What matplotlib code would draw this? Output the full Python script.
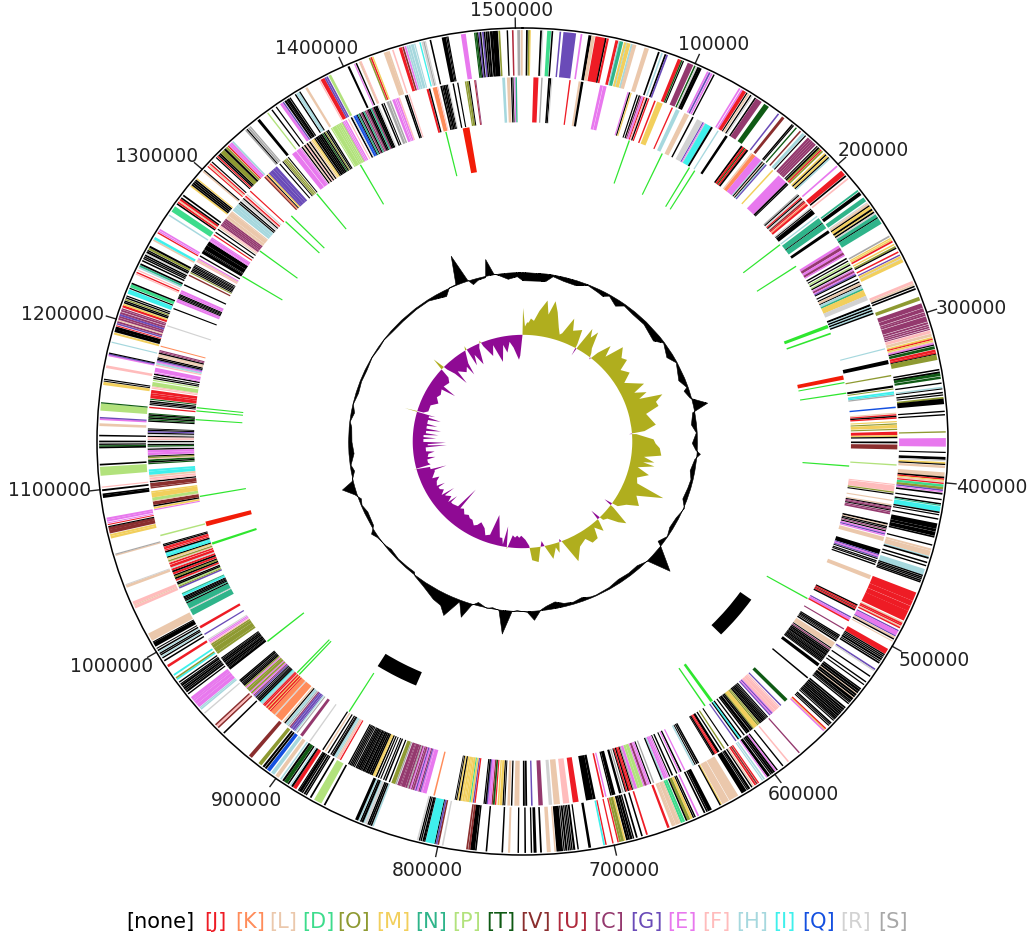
import numpy as np
import matplotlib
matplotlib.use("Agg")
import matplotlib.pyplot as plt

GENOME_KB = 1504.0
tick_values = [100000,200000,300000,400000,500000,600000,700000,800000,900000,1000000,1100000,1200000,1300000,1400000,1500000]
tick_labels = [str(v) for v in tick_values]
label_px = [(714,45),(873,151),(971,308),(992,487),(934,660),(803,795),(624,870),(427,871),(246,800),(112,666),(50,491),(63,315),(157,157),(317,48),(512,10)]

legend_names = ['[none]','[J]','[K]','[L]','[D]','[O]','[M]','[N]','[P]','[T]','[V]','[U]','[C]','[G]','[E]','[F]','[H]','[I]','[Q]','[R]','[S]']
legend_x = [160,215,250,283,318,354,393,431,467,501,536,572,609,646,682,716,752,784,819,856,893]
cat_keys = ['x','J','K','L','D','O','M','N','P','T','V','U','C','G','E','F','H','I','Q','R','S']
cat_colors = ['#000000','#EE1C25','#FF8C5A','#EBC8AC','#3DDC8C','#8E9A32','#F2CF5C','#2FB48A','#B2E27C','#0F5A14','#8A2E2E','#B02A3C','#94396E','#6A4BB8','#E878EE','#FFBCBC','#A6D8DE','#3FF0EC','#1450E0','#D2D2D2','#A8A8A8']
colour = dict(zip(cat_keys, cat_colors))

# (start kb, length kb, COG category)
fwd_genes = [(2,.8,'x'),(3.2,.8,'O'),(4,.5,'M'),(10,1,'x'),(11,.6,'R'),(14,2,'D'),(16.5,.7,'x'),(21,.7,'G'),(23.2,7,'G'),(33,.8,'E'),(37.5,1.6,'x'),(39.2,1.8,'L'),(41.5,5.5,'J'),(47,.7,'x'),(48,1,'J'),(53,1.5,'J'),(54.8,.6,'H'),(55.5,1.8,'N'),(58,1.2,'M'),(59.2,.4,'H'),(59.7,1.9,'M'),(62,1,'H'),(63,2,'L'),(70,2.4,'L'),(78,.8,'x'),(80,.7,'H'),(82,.8,'x'),(83,.8,'G'),(90,1.8,'J'),(92,.6,'T'),(93,.5,'x'),(96,3.2,'C'),(100,.7,'T'),(101,.7,'R'),(102,1,'x'),(103,1.4,'x'),(108,.8,'E'),(109.2,.8,'G'),(110.5,.8,'E'),(112,.6,'x'),
(128.5,.8,'E'),(130,.8,'E'),(131,2,'J'),(133.5,.5,'x'),(134.5,.8,'L'),(136,.6,'x'),(137,.5,'R'),(139,.7,'x'),(140,3.5,'C'),(145.5,3,'T'),(155,.7,'G'),(158,1.5,'V'),(165,.7,'x'),(166,.5,'x'),(168,.6,'T'),(171,.7,'V'),(173,1.5,'H'),(175,.5,'x'),(177,1.2,'C'),(178.4,1,'C'),(179.6,1,'C'),(180.8,1,'C'),(182,1,'C'),(184,.5,'x'),(185,1,'x'),(186,.7,'O'),(187,.7,'J'),(188,.8,'O'),(190,.8,'M'),(191,.6,'x'),(192,1,'M'),(193.2,.6,'x'),(194,.7,'H'),(200,.8,'E'),(204,3,'J'),(207.5,.8,'x'),(209.5,.8,'F'),(218.5,.9,'N'),(220,2,'x'),(224,2.5,'N'),(227.5,.5,'R'),(228.3,1,'L'),(229.5,.7,'x'),(230.3,1.5,'M'),(232,1,'x'),(233.2,.5,'M'),(234,.8,'x'),(235,.8,'R'),(236,2,'N'),(238,.5,'x'),(238.6,3.6,'N'),(250.5,.8,'S'),(252,.6,'M'),(253,.7,'M'),(254,.8,'J'),(256,.7,'M'),(257.5,.8,'O'),(258.5,.6,'x'),(261,.7,'J'),(263,.6,'G'),(264,1.3,'M'),(265.5,.5,'R'),(266,1.8,'M'),(280,1.5,'F'),(281.8,.8,'L'),(283,.7,'x'),(284.5,.8,'x'),(290,2,'O'),
(294,2.6,'C'),(297,2,'C'),(299.5,.8,'C'),(300.5,1,'C'),(302,3,'C'),(305.5,1,'C'),(307,.8,'C'),(308.2,.8,'C'),(309.5,.5,'C'),(310.5,1.6,'F'),(312.5,1.5,'L'),(314.5,1,'M'),(315.5,.6,'J'),(316.3,.8,'M'),(317.3,.6,'L'),(318,.8,'E'),(319,.5,'x'),(320,1.5,'T'),(322,1.3,'J'),(323.5,.9,'J'),(324.5,.4,'x'),(325,3,'O'),(333.5,.7,'x'),(335,1,'x'),(336,1.5,'T'),(338,1.2,'T'),(341.5,.6,'x'),(344,.7,'H'),(345,.4,'x'),(347,.7,'x'),(348.5,.5,'x'),(350,1,'O'),(351,3,'x'),(358,.6,'x'),(360,.6,'x'),(370,.6,'O'),(374,4.8,'E'),(382,.5,'x'),(385,1.5,'x'),(386.7,.6,'R'),(388,.9,'M'),(389,.5,'x'),(390,1.3,'L'),(394,2.5,'L'),(396.5,.8,'x'),(397.5,.7,'J'),(398.3,.5,'M'),(399,.6,'L'),(400,.6,'J'),(401,1.3,'D'),(402.5,1.3,'O'),(404,.7,'G'),(405,.5,'E'),(406,.8,'x'),(409.5,.6,'x'),(412,.7,'x'),(413,.5,'N'),(414,2.8,'I'),(417,.7,'x'),(418.5,.5,'x'),(421,.6,'x'),(424,3,'x'),(427.2,1.5,'x'),(429,2.2,'x'),(431.5,.8,'x'),(436.5,.6,'x'),(439,1,'L'),(440.3,3,'L'),(443.5,.6,'H'),(444.2,.8,'x'),(447,.7,'x'),(449,.6,'x'),(451.5,3.5,'H'),(455,.6,'x'),(456,.7,'x'),(457,.6,'x'),(458,.7,'x'),(459,.6,'x'),
(466,5,'J'),(471.2,3,'J'),(474.5,3,'J'),(477.6,6,'J'),(484.5,.6,'L'),(485.3,.8,'J'),(486.3,.7,'J'),(487.2,.6,'L'),(488,.7,'J'),(490,.6,'G'),(490.7,2.6,'E'),(493.5,.5,'G'),(494.3,1,'L'),(495.5,.6,'x'),(497,.4,'L'),(502.5,3.2,'J'),(506,.6,'x'),(507,.6,'x'),(508,.6,'x'),(509,1,'x'),(510.5,.5,'x'),(511.5,.8,'x'),(516,.8,'G'),(517,.6,'R'),(521,.6,'x'),(525,.6,'x'),(527,.5,'x'),(530,.7,'x'),(531,1.2,'x'),(532.5,1,'x'),(533.7,.4,'L'),(534.2,1,'x'),(535.5,1,'x'),(536.7,.4,'L'),(537.2,1.5,'x'),(539,.8,'x'),(540,.5,'x'),(541,.6,'x'),(544,.8,'x'),(545.2,1,'x'),(546.5,.8,'x'),(547.6,.8,'x'),(548.6,.8,'x'),(549.7,1,'x'),(551,.8,'x'),(552,.8,'x'),(553,.5,'x'),(554,.5,'x'),(556,.7,'x'),(557,.5,'x'),(558,.5,'x'),(560.5,.7,'J'),(561.3,.5,'M'),(562,.7,'E'),
(581,.6,'C'),(589,.7,'F'),(593,.6,'x'),(597,.6,'x'),(598,.7,'E'),(599,.8,'x'),(600,1,'x'),(601.3,.6,'x'),(602.5,1.5,'x'),(604.3,.5,'E'),(606,.7,'H'),(607.3,.5,'H'),(610,.6,'J'),(611,.7,'V'),(612,.8,'J'),(613.5,.5,'L'),(614.5,.6,'x'),(616,1.2,'x'),(617.5,.5,'x'),(618.5,3,'x'),(624,5.5,'L'),(630,4,'L'),(634.5,.6,'M'),(635.2,.6,'x'),(641,2.2,'x'),(643.5,.7,'x'),(645,.8,'x'),(649,.8,'E'),(651,.6,'x'),(652,.6,'x'),(653,1.2,'M'),(654.5,1.5,'O'),(656.2,.7,'x'),(657.6,1.2,'D'),(659,1,'D'),(660.2,.6,'L'),(661,2,'L'),(663.3,.6,'L'),(664,1.4,'L'),(667,1.2,'J'),(680,.8,'J'),(683,.7,'x'),(686,.8,'x'),(688,.6,'x'),(689,1.2,'x'),(690.5,.8,'x'),(691.5,1,'x'),(693,.8,'M'),(694,1.4,'O'),(695.6,1,'O'),(697,.6,'J'),(700,.6,'J'),(704,.6,'J'),(705,.8,'I'),(713,1.3,'x'),(720,.6,'x'),(722,1,'x'),(723.5,.6,'x'),(724.5,.6,'x'),(725.5,.5,'x'),(726.5,1,'x'),(728,.5,'x'),(729,3.5,'x'),(733,.7,'L'),(736,2,'L'),(741,.8,'x'),(744,1.5,'x'),(746.5,.6,'x'),(750,.7,'x'),(754,.6,'x'),(759,1,'L'),(763,.7,'x'),(772,.7,'x'),(778,.7,'x'),(779,2.5,'x'),(781.6,1,'V'),(783,.8,'V'),(797,.7,'R'),(799.5,.8,'V'),(800.5,.8,'G'),(801.6,.5,'x'),(802.2,5,'I'),(807.5,.4,'x'),(808,1,'x'),(809.5,.6,'x'),(810.5,.6,'x'),(811.5,.7,'R'),
(838,.7,'H'),(839,.7,'x'),(840,.8,'x'),(841,.7,'x'),(842,1.2,'R'),(843.5,.7,'H'),(844.3,1,'x'),(845.5,.7,'x'),(846.5,.7,'H'),(847.5,1.6,'x'),(868,.8,'x'),(870.5,4.5,'P'),(877,.8,'x'),(880,.6,'x'),(881,.9,'x'),(882.5,.7,'x'),(883.5,1.5,'x'),(885.2,.5,'x'),(887,2,'J'),(889.2,1,'x'),(890.5,.6,'H'),(892,.7,'x'),(893,2,'T'),(895.2,1,'x'),(897,.7,'H'),(899,2,'L'),(902,2,'H'),(905,2,'Q'),(907.5,1,'x'),(909,1,'x'),(911,2,'O'),(918,2,'V'),(939,.7,'x'),(943.5,.8,'V'),(944.5,1,'F'),(945.7,.7,'V'),(955,.6,'R'),(958,.7,'H'),(959,.6,'H'),(960,2,'E'),(962.2,2,'E'),(964.4,1,'E'),(965.5,1.8,'E'),(969.5,.6,'x'),(971,1,'x'),(972.3,.6,'x'),(973.2,1,'x'),(974.5,.6,'x'),(975.5,1,'x'),(976.7,.5,'x'),(978,.6,'x'),(980,.8,'I'),(981,.7,'O'),(983,.9,'I'),(989,1.3,'J'),(993,.7,'x'),(995,.6,'x'),(996,.5,'H'),(997,.6,'x'),(998,.6,'x'),(999,.5,'H'),(1000,.7,'x'),(1001.5,.4,'x'),(1003,2.5,'x'),(1005.7,.5,'x'),(1007,4.5,'L'),(1028,1.5,'F'),(1029.7,.5,'L'),(1030.3,1.8,'F'),(1041,1.5,'L'),(1042.6,.4,'R'),(1060.5,.6,'L'),(1061.2,.5,'S'),(1071,1.2,'M'),(1072.4,1,'M'),(1074,2,'V'),(1076,1.6,'V'),(1077.7,.5,'x'),(1079,.4,'J'),(1080,.4,'E'),(1081,1,'E'),(1082.2,1,'E'),(1095,1.5,'x'),(1096.6,.8,'x'),(1099,.9,'x'),(1101,.5,'F'),(1108,5,'P'),(1114,.8,'x'),(1124,.9,'x'),(1125,.6,'T'),(1126,.6,'x'),(1127.5,.8,'x'),(1131,.7,'x'),
(1137,1.4,'L'),(1140.5,.9,'E'),(1141.5,.6,'G'),(1146,4,'P'),(1150.2,.5,'T'),(1161,1.6,'M'),(1163,.4,'x'),(1164,.5,'x'),(1171,1.4,'F'),(1178,.7,'E'),(1178.8,.6,'G'),(1179.5,.5,'x'),(1186,.5,'H'),(1191,1,'M'),(1192.5,1.5,'x'),(1194,1.6,'x'),(1196,.4,'J'),(1197,.7,'G'),(1198,.9,'C'),(1199.2,.5,'L'),(1200,.9,'C'),(1201.2,.9,'C'),(1202.3,1,'G'),(1203.5,1,'C'),(1205,.9,'C'),(1206.2,.6,'C'),(1207.5,1.2,'J'),(1208.8,.8,'M'),(1210,.7,'x'),(1211,.6,'x'),(1212,.5,'O'),(1213,.6,'x'),(1214.2,.5,'x'),(1216,2.5,'I'),(1219,.5,'x'),(1220,1.8,'D'),(1222,.7,'x'),(1228,.5,'F'),(1229,.6,'J'),(1230.5,.5,'F'),(1232,.7,'H'),(1233,.9,'N'),(1234.2,.8,'x'),(1236.5,.7,'x'),(1238,.6,'x'),(1239,.6,'x'),(1240,.8,'x'),(1241,.6,'R'),(1242,.9,'x'),(1243.2,.6,'x'),(1244.2,1,'O'),(1245.5,1,'x'),(1250,.8,'L'),(1251,1.3,'I'),(1255,.6,'J'),(1256,.6,'E'),(1257,.8,'E'),(1267,.7,'H'),(1270,3.4,'D'),(1275,.7,'x'),(1276,.9,'J'),(1277,.7,'L'),(1278,1,'J'),(1279.2,.7,'x'),(1281,.8,'x'),(1288,.8,'M'),(1289,.7,'x'),(1290,.9,'x'),(1291.2,.8,'x'),(1292.3,.8,'x'),(1293.5,.5,'M'),(1299,.7,'L'),(1300,.5,'x'),(1303,.5,'J'),(1304,.6,'L'),(1305,.6,'J'),(1306.5,.5,'x'),(1310,.5,'x'),(1311,.6,'J'),(1312,.7,'x'),(1313,.8,'x'),(1314,2.5,'O'),(1316.7,1,'x'),(1318,1,'O'),(1319.5,.6,'J'),(1320.5,1,'E'),(1321.7,1,'E'),(1323,.8,'H'),
(1333,.7,'S'),(1334,.5,'x'),(1335,.9,'S'),(1336.3,.6,'S'),(1342,1.5,'x'),(1349,.6,'P'),(1352,.6,'x'),(1355,.5,'x'),(1358,1.5,'E'),(1359.8,.6,'G'),(1361,1,'x'),(1362.3,.6,'x'),(1363,1,'x'),(1364.4,.6,'x'),(1368,.6,'x'),(1369,.7,'H'),(1370,.8,'H'),(1371,.5,'x'),(1375,1.2,'L'),(1384,.5,'F'),(1385,2.2,'J'),(1387.4,.8,'G'),(1388.5,.8,'G'),(1390,1.4,'P'),(1402,1,'x'),(1406,.5,'E'),(1407,.6,'x'),(1409,1,'L'),(1410,.4,'F'),(1415,.7,'O'),(1416,.7,'J'),(1417,.6,'M'),(1424,2.5,'L'),(1426.6,.7,'L'),(1429,.7,'F'),(1433,1.6,'J'),(1435,.8,'V'),(1436.3,.8,'E'),(1437.5,.8,'H'),(1438.6,1,'H'),(1440,1.5,'H'),(1442,.5,'H'),(1445,.6,'I'),(1446.3,.7,'R'),(1447.3,.6,'S'),(1448.2,.5,'R'),(1451,.7,'x'),(1458,2.2,'x'),(1460.5,.5,'x'),(1461.2,.5,'x'),(1469,2.6,'E'),(1476.5,.5,'T'),(1477.2,.8,'T'),(1478.2,.5,'x'),(1479,.6,'G'),(1479.8,.6,'x'),(1481,.8,'G'),(1482,.6,'x'),(1483,.8,'x'),(1484,1,'x'),(1485.5,1.4,'x'),(1487,2.8,'x'),(1490.3,.8,'O'),(1495,.6,'x'),(1498,.7,'U'),(1501,1.4,'S'),(1503,.9,'L')]

rev_genes = [(7,3,'J'),(12,.7,'S'),(16.5,.9,'x'),(17.6,.6,'x'),(18.5,.5,'R'),(30,.7,'J'),(36,1.2,'L'),(37.5,1.4,'x'),(50,1.6,'E'),(52,2,'E'),(68,.6,'E'),(69,.6,'x'),(70,.6,'M'),(74,.6,'x'),(75.5,.7,'x'),(76.6,.6,'C'),(77.5,1,'E'),(78.8,.6,'J'),(79.6,.8,'F'),(80.6,.7,'x'),(81.8,.7,'J'),(86,.8,'J'),(88,3.6,'M'),(98,.7,'J'),(101,2.4,'H'),(107,3,'L'),(112.5,.8,'x'),(116,3.6,'R'),(120,.6,'G'),(120.8,.5,'E'),(121.5,.5,'R'),(122,4,'I'),(126.2,1.1,'x'),(131,.7,'H'),(137,1.5,'x'),(149,1,'x'),(150.2,1.2,'J'),(151.5,.6,'T'),(152.3,1,'J'),(153.5,1,'x'),(157,.7,'L'),(158,2.4,'K'),(160.5,4.5,'E'),(165.2,.6,'H'),(166,.6,'x'),(166.8,.5,'L'),(167.5,.6,'x'),(168.2,.6,'H'),(169,.7,'G'),(174.5,.8,'M'),(180,6.5,'E'),(186.7,1,'x'),(188,.6,'x'),(197,.7,'S'),(198,.6,'x'),(199,.5,'R'),(200,.7,'J'),(201,.6,'x'),(202,.6,'R'),(203,.8,'V'),(204,.7,'J'),(205.2,.6,'K'),(206,1.2,'J'),(209,.6,'R'),(210,.5,'x'),(211,3,'x'),(216,.7,'H'),(218,3.6,'N'),(221.8,.5,'x'),(222.4,3.6,'N'),(228,1.8,'x'),(240,1.5,'E'),(241.7,1.8,'C'),(243.7,1.5,'E'),(245.4,1.5,'C'),(247,.8,'E'),(249.5,.8,'x'),(251.5,.6,'x'),(253,.8,'P'),(254.3,.7,'x'),(256,.7,'P'),(257,.7,'x'),(258.3,.6,'E'),(259.2,1.2,'C'),(260.6,.7,'E'),(261.5,.7,'G'),(262.4,.6,'x'),(265,.7,'x'),(267,.7,'x'),(268,1.5,'L'),(269.7,.5,'x'),(270.5,1.5,'H'),(272.2,1,'N'),(273.3,4,'M'),(277.4,3,'R'),(283.5,1.2,'x'),(285,.5,'H'),(285.7,.9,'x'),(286.8,.5,'H'),(287.5,.9,'x'),(288.6,.8,'H'),(289.5,.8,'x'),
(314,.6,'H'),(322,2.5,'x'),(332,.7,'O'),(339,1.2,'x'),(341,.5,'O'),(343,1,'I'),(344.2,.7,'I'),(345.2,.7,'S'),(353,.8,'Q'),(357,.5,'L'),(358,.7,'J'),(359,.8,'x'),(360,.8,'J'),(362.5,.6,'M'),(364,.6,'O'),(365,2,'M'),(367.6,.6,'O'),(369.5,2,'J'),(371.8,1,'M'),(372.9,.7,'x'),(376,1,'x'),(378,3,'V'),(391,.7,'P'),(404,.5,'F'),(405,3.6,'F'),(409,.7,'O'),(410.3,.6,'x'),(414.5,.6,'L'),(417.5,.6,'L'),(418.5,.6,'x'),(419.2,.5,'C'),(420,.8,'C'),(421,.5,'x'),(422,.7,'C'),(423,1,'C'),(430,1,'x'),(431.2,.6,'L'),(432,.6,'x'),(433,.6,'x'),(434,.5,'C'),(435,.6,'x'),(436,.8,'E'),(437,.7,'G'),(438,.6,'E'),(439.5,2.6,'L'),(448,3,'x'),(451.2,.7,'G'),(452,.8,'E'),(453,.6,'G'),(454,.5,'x'),(455.5,.6,'x'),(456.5,.6,'x'),(458,.7,'x'),(466,2.6,'L'),(487,.8,'x'),(487.9,.7,'J'),(488.8,.8,'V'),(489.7,.7,'J'),(490.6,.8,'x'),(496,.7,'G'),(497,1.4,'E'),(498.6,.8,'J'),(505,.6,'C'),(510,.7,'x'),(511,.8,'x'),(512,.6,'x'),(513,.5,'x'),(514,.9,'x'),(516,3.5,'L'),(520,.5,'x'),(521,.6,'C'),(522,.7,'x'),(523,1,'x'),(524.2,.6,'x'),(525,1.2,'x'),(526.5,.5,'x'),(527.2,.6,'x'),(528,1,'x'),(529.2,.6,'x'),(530,.8,'x'),(531,.5,'x'),(533,2,'x'),(544.5,.8,'x'),(564,2.2,'T'),(569.5,.7,'G'),(571,.6,'F'),(572,.9,'F'),(573,1.6,'F'),(574.8,1.8,'F'),(576.8,.5,'E'),(577.4,.6,'G'),(578.2,.7,'E'),(579,.6,'G'),(581,.6,'x'),(582,.5,'x'),(582.8,.6,'x'),(583.6,.8,'x'),(584.6,1,'x'),(585.8,.6,'x'),(586.6,1,'x'),(588,.6,'O'),(589,.8,'O'),(590,2.6,'M'),(592.8,.6,'O'),(593.6,.7,'x'),(594.5,1,'x'),(596,1.6,'x'),(597.8,.8,'x'),(600,.7,'x'),(602.5,.8,'x'),(603.5,1,'I'),(604.6,.6,'x'),(606.5,.7,'G'),(612.5,.6,'x'),(615.5,.7,'O'),(617.5,.7,'x'),(619.5,1.5,'x'),(621.1,.6,'J'),(622,.8,'J'),(623,.8,'x'),(624,.5,'x'),(634.5,.8,'x'),(635.6,.8,'x'),(637,.5,'x'),(638,.8,'H'),(644.5,.7,'E'),(647,.8,'x'),(648.2,.7,'E'),(650,.6,'x'),(653,.8,'x'),(655,.5,'x'),(656,.6,'E'),(657,.8,'E'),(658,1.2,'E'),(659.5,.8,'H'),(660.5,.7,'x'),(666,.7,'S'),(668,.6,'x'),(669,.7,'E'),(670,.6,'E'),(671,1.3,'C'),(672.5,.7,'E'),(673.5,2,'P'),(675.7,1.5,'P'),(677.5,1.6,'E'),(679.4,.6,'S'),(680.3,.6,'x'),(681,.8,'J'),(682,.9,'J'),(683,.7,'x'),(684,.8,'J'),(685,.5,'x'),(686.5,.7,'S'),(688,1.4,'x'),(692,2.2,'x'),(694.5,.7,'x'),(697.8,.7,'E'),(699.5,.9,'J'),(705,1.5,'x'),(706.7,4.3,'x'),(716,3.5,'J'),(722,3.8,'F'),(728,3.8,'L'),(733,2,'R'),(739,2.6,'C'),(745.5,.8,'G'),(749,1,'x'),(750.5,1,'x'),(754,3,'L'),(758.5,.7,'x'),
(760,1.5,'L'),(763,.5,'x'),(764,.7,'x'),(765,1.5,'M'),(767,.8,'M'),(768.8,.6,'J'),(769.8,1,'T'),(771,.7,'V'),(772,.8,'E'),(773,1,'E'),(774.2,.7,'G'),(775,.8,'x'),(776.2,.6,'x'),(782,.7,'J'),(783,.7,'G'),(784,1,'M'),(785.3,.6,'D'),(786.1,1.4,'M'),(787.7,.8,'M'),(788.7,.6,'M'),(789.5,1,'M'),(790.8,.9,'M'),(791.9,.7,'x'),(793,.8,'M'),(794,.5,'x'),(795,.4,'x'),(808.5,.8,'K'),(814,2.5,'E'),(816.8,.8,'E'),(817.8,.6,'G'),(818.6,.7,'C'),(819.5,1,'E'),(820.7,.8,'G'),(821.6,.5,'E'),(822.2,1,'C'),(823.5,.7,'C'),(824.4,.6,'E'),(825.2,.8,'C'),(826.2,.6,'S'),(827,1,'C'),(828.2,2.5,'C'),(830.9,.5,'C'),(831.6,1.8,'C'),(834,.7,'S'),(835,2.4,'O'),(838.5,.7,'x'),(841,.8,'x'),(842.5,.6,'x'),(844.5,.5,'x'),(846,.7,'x'),(847.5,.8,'x'),(848.5,.5,'M'),(849.3,1,'M'),(850.5,.8,'x'),(851.5,1,'x'),(852.8,1,'x'),(854,1.2,'x'),(855.5,.6,'x'),(856.3,1.2,'x'),(857.8,.6,'x'),(858.6,.8,'x'),(859.6,1,'x'),(860.8,.7,'x'),(861.7,.7,'x'),(863,.6,'x'),(864,.7,'x'),(865,.7,'x'),(866,.6,'x'),(867,.7,'x'),(873,.7,'J'),(874,1,'F'),(875.2,.7,'L'),(876.2,.6,'H'),(877,1,'H'),(878.2,.7,'x'),(879,.5,'x'),(880,.7,'x'),(882,.7,'x'),(884,.8,'L'),(886,.7,'x'),(896,.7,'R'),(902,1.8,'C'),(906,.6,'S'),(907.3,.7,'H'),(908.2,.5,'G'),(909,1.2,'G'),(910.5,1,'G'),(911.7,.7,'C'),(913,.6,'S'),(914,1.5,'H'),(916,.7,'x'),(917,.9,'L'),(919,5,'K'),(924.2,.5,'R'),(925,3,'K'),(928.2,.7,'J'),(929,.5,'M'),(929.6,1,'J'),(930.7,.6,'M'),(931.4,1,'J'),(932.5,.6,'L'),(933.2,.8,'J'),(934.2,.8,'J'),(935.2,.7,'H'),(936,.6,'H'),(936.8,.6,'I'),(937.6,.6,'x'),(938.4,.5,'x'),(939,.7,'x'),(940,.5,'x'),(941,.6,'x'),(942,.7,'G'),(943,.6,'C'),(944,.8,'E'),(945,1,'O'),(946.2,.6,'E'),(947,1.5,'O'),(948.7,1,'O'),(950,.7,'E'),(951,.7,'O'),(952,.8,'x'),(953,.7,'x'),(954,.6,'x'),(955,1,'x'),(956.2,.7,'x'),
(966,1.5,'x'),(967.7,.5,'x'),(968.4,1,'x'),(969.6,1.2,'x'),(971,.5,'x'),(971.8,1,'x'),(973,1,'x'),(974.2,.5,'x'),(975,.6,'x'),(979,1.2,'O'),(980.4,3,'O'),(983.6,2,'O'),(985.8,1,'O'),(987,.5,'F'),(988,.6,'E'),(989,.6,'E'),(990,.5,'R'),(994,.7,'G'),(999,1.5,'J'),(1009,4,'N'),(1013.2,.6,'R'),(1014,3.5,'N'),(1017.7,.7,'x'),(1018.6,.6,'N'),(1019.4,.7,'x'),(1020.3,.8,'x'),(1021.3,.6,'x'),(1022,.6,'x'),(1023,1.2,'I'),(1024.4,.6,'N'),(1028.5,.9,'G'),(1029.6,.6,'O'),(1030.4,.7,'P'),(1031.3,.7,'x'),(1032.2,.8,'x'),(1033.3,.5,'R'),(1034,.9,'J'),(1035.2,1,'x'),(1036.3,.9,'O'),(1037.4,.7,'x'),(1038.5,1.2,'J'),(1040,1,'x'),(1041.2,1.2,'J'),(1042.5,.8,'R'),(1043.5,1.5,'J'),(1045.5,1,'J'),(1046.7,.6,'L'),(1047.5,.8,'O'),(1048.5,.7,'L'),(1049.4,.6,'M'),(1050.2,.7,'x'),(1051,1.5,'I'),(1052.7,.8,'I'),(1053.7,.9,'x'),(1055,.6,'J'),(1056,.9,'J'),(1057,.6,'J'),(1058,.7,'x'),(1059,.5,'x'),(1065,.8,'P'),(1082.5,.6,'E'),(1083.5,1,'M'),(1085,.8,'x'),(1086,2.2,'V'),(1088.4,.5,'L'),(1089,1.8,'P'),(1091,3,'M'),(1094.2,.8,'M'),(1097,.7,'V'),(1098,2.4,'V'),(1101,.8,'x'),(1102,.6,'F'),(1103,1,'F'),(1104.5,1.2,'L'),(1106,2,'I'),(1108.2,1.2,'I'),(1113,.6,'T'),(1114,.8,'x'),(1115,1,'T'),(1116.2,.5,'L'),(1117,.7,'O'),(1118,.5,'x'),(1119,1.5,'E'),(1120.7,1.5,'E'),(1122.5,.7,'x'),(1123.5,.5,'R'),(1124.5,.7,'T'),(1125.5,.6,'x'),(1126.5,.5,'R'),(1127.5,.7,'x'),(1129,.5,'F'),(1130,.7,'F'),(1131,.5,'x'),(1132,.6,'R'),(1133,.7,'x'),(1134,.7,'G'),(1135,.6,'x'),(1136,.4,'x'),
(1141,.7,'x'),(1142,.6,'T'),(1143,.8,'x'),(1144,.7,'T'),(1145,.8,'x'),(1146,.5,'T'),(1150,.7,'J'),(1152,.5,'x'),(1153,.6,'x'),(1154,.7,'x'),(1155.5,.5,'T'),(1156.5,2,'J'),(1158.7,1,'J'),(1160,1.8,'J'),(1162.8,.6,'F'),(1163.8,.5,'F'),(1164.5,2.6,'P'),(1168,.6,'P'),(1169.3,.6,'x'),(1170.5,.5,'x'),(1172,.8,'x'),(1173,.5,'E'),(1174,2.6,'E'),(1178,.7,'F'),(1179,1.2,'H'),(1180.3,.7,'E'),(1181.2,.6,'G'),(1182,.7,'x'),(1183,.7,'x'),(1184,.7,'L'),(1185,.9,'L'),(1186.2,.7,'x'),(1187.2,.5,'C'),(1188,.6,'C'),(1191,.5,'K'),(1205,.6,'R'),(1217,.6,'x'),(1222,1,'E'),(1223.2,1,'E'),(1224.5,.5,'x'),(1225.3,.6,'x'),(1226.2,.6,'x'),(1227,.6,'x'),(1228,1,'E'),(1229.2,1.2,'E'),(1234,.7,'x'),(1241,.7,'V'),(1243,.5,'O'),(1244,.6,'x'),(1245,.7,'x'),(1246,.6,'x'),(1247,.7,'x'),(1248,.5,'x'),(1249,.5,'x'),(1251.5,.8,'F'),(1252.5,.8,'L'),(1253.5,.6,'E'),(1255.5,.7,'x'),(1258,2,'x'),(1260.2,.5,'x'),(1261,3,'x'),(1264.2,2.8,'x'),(1267.2,.5,'E'),(1268,1.4,'E'),(1269.6,.6,'E'),(1272,.6,'J'),(1274,.6,'x'),(1276.5,.6,'x'),(1278,.5,'L'),(1279,.6,'F'),(1280,1,'C'),(1281.2,.6,'C'),(1282,1,'C'),(1283.2,1,'C'),(1284.4,1,'C'),(1285.6,.5,'L'),(1286.3,1.4,'L'),(1288,2.8,'L'),(1291,.6,'L'),(1292.5,1.2,'H'),(1293.8,1.5,'H'),(1295.5,1.6,'H'),(1297.3,.6,'H'),(1298.3,.6,'x'),(1299.5,.7,'x'),(1301,1,'R'),(1302.5,.6,'x'),(1303.5,.7,'F'),(1304.5,.7,'J'),(1306,.6,'R'),(1309,.6,'J'),
(1322,.8,'V'),(1323,.6,'K'),(1324,.5,'x'),(1325,1,'M'),(1326,1.2,'G'),(1327.3,2,'G'),(1329.5,1.5,'G'),(1331.2,1.5,'G'),(1335,.6,'x'),(1337.5,.5,'x'),(1338.5,.6,'O'),(1339.4,.6,'O'),(1340.5,.7,'O'),(1342,.5,'x'),(1345.5,3,'E'),(1349,2.5,'E'),(1351.8,.6,'E'),(1353,.7,'x'),(1354,.6,'L'),(1355,.8,'x'),(1356,.6,'F'),(1357,.8,'x'),(1358,.5,'L'),(1359,.7,'x'),(1360,.5,'L'),(1361,.5,'M'),(1362,.8,'M'),(1363,.6,'x'),(1364,1.3,'x'),(1365.5,.8,'x'),(1366.5,1,'x'),(1367.7,1,'x'),(1369,.6,'T'),(1370,.7,'x'),(1371,.5,'O'),(1372,.6,'x'),(1373,.7,'x'),(1375.5,.6,'P'),(1376.5,2.6,'P'),(1379.3,1.2,'P'),(1380.7,.8,'P'),(1381.7,1,'P'),(1383,1,'P'),(1384,.6,'E'),(1385,.6,'E'),(1386,.8,'E'),(1388,.5,'F'),(1390,.9,'x'),(1391,.5,'R'),(1392,1,'Q'),(1393.2,.8,'Q'),(1394.2,.5,'x'),(1395,.7,'N'),(1396,.5,'x'),(1397,.8,'C'),(1398,.7,'x'),(1399,.7,'N'),(1400,.6,'C'),(1401,.9,'C'),(1402,.8,'x'),(1403,.7,'x'),(1404,.8,'N'),(1405,.8,'C'),(1406,.9,'x'),(1407,1,'x'),(1408,.7,'x'),(1409,.7,'R'),(1411.5,.8,'x'),(1413,.5,'x'),(1415,1.5,'S'),(1417,.9,'S'),(1419,1.6,'E'),(1421,.6,'E'),(1422,1,'E'),(1423.3,.7,'F'),(1427.5,.8,'x'),(1428.6,.7,'x'),(1430,.6,'F'),(1442,1.2,'J'),(1443.5,.7,'x'),(1446,2.6,'K'),(1449,.4,'F'),(1451,.9,'x'),(1452.2,.6,'x'),(1453,1,'x'),(1454.2,.8,'x'),(1455.3,.5,'x'),(1456,.5,'R'),(1459,.7,'x'),(1462,.6,'x'),(1467,.7,'O'),(1468,1.2,'O'),(1469.5,.5,'x'),(1473,.5,'U'),(1473.7,.4,'C'),(1491,1.6,'H'),(1494,1.8,'L'),(1496.5,.6,'x'),(1497.5,.5,'x'),(1498.6,.6,'E'),(1499.5,.7,'N')]

trna_pos = [79,105,127.5,132,216,236,286.2,292.5,331,339,394,499,603.5,610,885,931,933,965,1049,1086,1144,1150.6,1153,1258,1281,1310,1316,1341,1379.6,1447]
trna_len = [1,1,1,1,1,1,2.6,1.3,.9,1,1,1,2.2,1.1,1,1,1,1.1,1.8,1,.9,.9,.9,1,1,1,1,1,1,1]
rrna_pos = [326,1063.5,1460]
rrna_len = [3.2,3.6,5]
block_pos = [524,848]
block_len = [40,38]

gc_pos = [0,33,42,58,75,92,109,117,125,140,150,167,188,215,226,246,259,284,297,301,313,325,334,351,363,378,388,393,401,418,430,443,460,472,489,505,518,531,535,552,562,577,593,610,627,648,656,668,681,694,706,719,727,737,746,760,767,777,785,794,802,815,823,831,840,852,861,873,894,911,915,928,944,961,969,986,994,1003,1024,1036,1045,1053,1064,1072,1086,1095,1111,1128,1149,1157,1170,1182,1199,1216,1233,1253,1270,1283,1299,1320,1345,1366,1379,1391,1400,1410,1418,1427,1433,1441,1452,1457,1464,1471,1483,1496,1504]
gc_val = [-2,-1.8,-.4,-1,-1.2,-.2,-.8,-1.1,-.3,-1.6,-.4,-.8,-.8,-1.8,-.2,-1.5,-.2,-1.5,-.3,-1.2,-.3,3.4,-.5,-1.2,-.2,-1.2,-.3,.8,-.4,-1.1,-.5,-.7,-1,.2,-.6,-.8,-.1,-1.2,.2,5.6,.1,-.8,-.7,-.9,-.4,-.2,-.3,-.9,-.5,-.8,-1.6,-.9,-.2,2.2,.2,-.2,.1,5.7,.1,-.3,.1,-.8,.3,3.8,.4,4.9,3,2.5,1,.2,-.5,-.4,-.3,-.6,-.2,.3,1,-.5,-.8,-.2,-.6,.5,3,.3,-.8,-.2,-1.2,-.8,-.6,-.1,-.8,-.1,-.6,-.35,-.45,-.1,-.3,-.1,-.4,-.45,-.35,-.35,-1,-1.5,.1,.2,7,.3,-1.2,-.5,-.3,4,.2,-.4,-1.5,-1,-2]

skew_pos = [0,1,5,9,12,16,22,30,41,47,54,62,72,78,82,93,100,115,120,121,124,130,136,142,150,155,160,165,175,182,192,205,214,222,236,248,267,275,283,290,296,305,313,322,345,355,358,359,360,372,380,388,401,407,415,418,422,430,440,451,462,470,485,500,510,522,526,530,539,547,556,564,568,572,579,589,597,610,618,635,650,664,668,677,681,692,702,708,714,721,733,737,745,755,760,765,770,776,786,791,796,800,806,823,830,840,848,862,868,875,
885,893,900,910,920,928,933,936,950,956,958,961,968,978,980,982,985,994,1000,1006,1008,1011,1022,1030,1033,1048,1051,1053,1056,1062,1066,1068,1074,1082,1085,1088,1096,1100,1103,1113,1116,1118,1121,1124,1127,1134,1137,1139,1144,1146,1149,1155,1158,1161,1168,1170,1173,1183,1186,1189,1193,1195,1196,1198,
1204,1220,1232,1245,1255,1268,1273,1277,1293,1302,1310,1314,1320,1325,1329,1345,1354,1358,1362,1376,1378,1386,1395,1403,1410,1413,1427,1435,1448,1458,1465,1474,1482,1494,1498,1504]
skew_val = [0,6.5,2,3,3,4,3.5,6,8.8,5.5,9,6.5,3,1.5,2,6.3,3.5,4.6,1,-2,1,6,4,6,2,1,-.5,2,5.2,2.5,7,5,5.7,3,4.4,2,6,3,5.7,3.5,9,7,7.3,4,5.8,3,0,-.7,1,5,5.5,6.5,7,3,5.6,3,5.8,2,5,2.5,3,10,4,5.7,3,1.5,-2,1,5.6,4,1.5,1,-2.5,.5,3,1,3.5,3.7,2,3,6,.3,-.7,2.5,1,3.5,.5,-1.3,.5,3.6,3,-.5,-2,-3,-2.5,-3,-2.5,-3,.5,-5,-.5,-2,-2,-7.2,-2,-1.5,-3,-4,-3,-2.5,
-3.5,-3.5,-4,-3.5,-4.5,-4,-9.8,-4,-3.5,-3.5,-5.5,-3,-4.5,-3.5,-3.5,-6.2,-2.8,-4,-3.2,-3.2,-5,-3,-3.5,-4.5,-2.8,-4,-4,-7,-3.2,-3.2,.6,-3.5,-3,-3,-5,-3.2,-3.5,-5,-3,-3,-8,-3.5,-3.5,-7.8,-2.5,-2.5,-5.5,-2.5,-2.5,-6,-3,-3,-6.5,-3,-3,-5.5,-3,-3,-6,-3,-3,-4.5,3,-1.5,
-2.5,-2.5,-4,-3,-3.5,-3,-6.5,-3,-3.5,-2.5,3,-1,-3,-6.5,-3,-4.5,-3.5,-6,-3,1,-4.5,-2,-5,-1,.6,-1,-4,-1.5,-6,-2,-4,-1.5,-3,-6,-5,0]

W, H = 1033, 936
CX, CY, RX, RY = 522.5, 441.5, 425.5, 413.5
fig = plt.figure(figsize=(W/100, H/100), dpi=100, facecolor='white')
ax = fig.add_axes([(CX-RX)/W, 1-(CY+RY)/H, 2*RX/W, 2*RY/H], projection='polar')
ax.set_aspect('auto')
ax.set_theta_zero_location('N')
ax.set_theta_direction(-1)
ax.set_ylim(0, 1)
ax.set_xticks([]); ax.set_yticks([])
ax.grid(False)
ax.spines['polar'].set_linewidth(1.1)

def th(kb):
    return np.asarray(kb, dtype=float) / GENOME_KB * 2*np.pi

def draw(genes, r0, r1):
    s = [g[0] for g in genes]; l = [g[1] + .22 for g in genes]
    c = [colour[g[2]] for g in genes]
    ax.bar(th(s), r1-r0, width=th(l), bottom=r0, align='edge', color=c, linewidth=0)

draw(fwd_genes, .885, .995)
draw(rev_genes, .772, .881)
ax.bar(th(trna_pos), .11, width=th(trna_len), bottom=.66, align='edge', color='#2FE62F', linewidth=0)
ax.bar(th(rrna_pos), .11, width=th(rrna_len), bottom=.66, align='edge', color='#F21C08', linewidth=0)
ax.bar(th(block_pos), [.032,.035], width=th(block_len), bottom=[.628,.606], align='edge', color='black', linewidth=0)

gp = th(gc_pos); gv = np.array(gc_val)/100
ax.fill_between(gp, .41, .41+gv, color='black', linewidth=.4)

sp = th(skew_pos); sv = np.array(skew_val)/100
ax.fill_between(sp, .258, .258+sv, where=sv>=0, interpolate=True, color='#B0AE1E', linewidth=0)
ax.fill_between(sp, .258, .258+sv, where=sv<=0, interpolate=True, color='#8F0A94', linewidth=0)

for v in tick_values:
    t = th(v/1000)
    ax.plot([t, t], [1, 1.024], color='#222222', lw=1, clip_on=False)
for lab, (px, py) in zip(tick_labels, label_px):
    fig.text(px/W, 1-py/H, lab, ha='center', va='center', fontsize=13.5, color='#222222')
for lab, x, c in zip(legend_names, legend_x, cat_colors):
    fig.text(x/W, 1-922/H, lab, ha='center', va='center', fontsize=15, color=c)

fig.savefig('out.png', dpi=100)
